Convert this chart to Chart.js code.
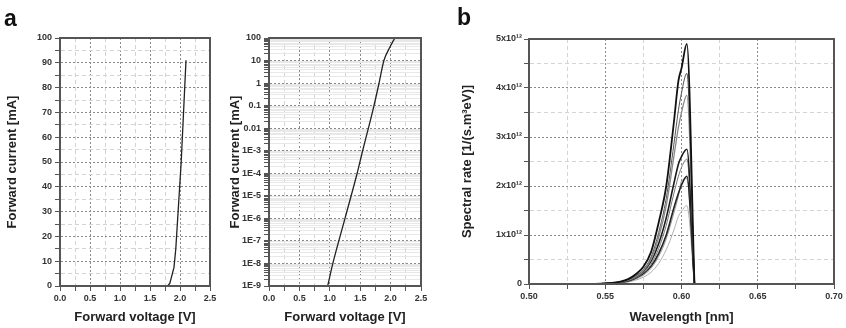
<!DOCTYPE html>
<html>
<head>
<meta charset="utf-8">
<script src="https://cdn.jsdelivr.net/npm/chart.js@4.4.1/dist/chart.umd.min.js"></script>
<style>
body { margin: 0; background: #fff; width: 846px; height: 328px; overflow: hidden; position: relative; font-family: 'Liberation Sans', Arial, sans-serif; }
.panel { position: absolute; top: 0; }
.tag { position: absolute; font-weight: bold; font-size: 23px; line-height: 23px; color: #111; }
</style>
</head>
<body>
<canvas id="linChart" class="panel" width="225" height="328" style="left:0"></canvas>
<canvas id="logChart" class="panel" width="230" height="328" style="left:225px"></canvas>
<canvas id="specChart" class="panel" width="391" height="328" style="left:455px"></canvas>
<div class="tag" style="left:4px;top:7px">a</div>
<div class="tag" style="left:457px;top:6px">b</div>
<script>
// panel a, linear current
const linVoltage = [1.79, 1.83, 1.9, 1.93, 2.02, 2.1];
const linCurrent = [0, 1, 7.5, 15, 50, 91];

// panel a, log current
const logVoltage = [0.965, 1.05, 1.25, 1.45, 1.54, 1.635, 1.727, 1.81, 1.89, 1.99, 2.07];
const logCurrent = [1e-9, 1e-8, 1e-6, 1e-4, 1e-3, 1e-2, 0.1, 1, 10, 40, 100];
const logDecades = [1e-9, 1e-8, 1e-7, 1e-6, 1e-5, 1e-4, 1e-3, 0.01, 0.1, 1, 10, 100];
const logLabels = ['1E-9', '1E-8', '1E-7', '1E-6', '1E-5', '1E-4', '1E-3', '0.01', '0.1', '1', '10', '100'];

// panel b, spectral rate in units of 10^12
const wavelength = [0.540, 0.550, 0.560, 0.565, 0.570, 0.575, 0.580, 0.585, 0.590, 0.595, 0.598, 0.600, 0.6035, 0.6085];
const specA = [0, 0.01, 0.05, 0.1, 0.2, 0.35, 0.65, 1.25, 2.0, 3.3, 4.15, 4.4, 4.9, 0];
const specB = [0, 0.01, 0.04, 0.09, 0.17, 0.3, 0.55, 1.05, 1.75, 2.85, 3.55, 3.9, 4.3, 0];
const specC = [0, 0.01, 0.04, 0.08, 0.15, 0.27, 0.5, 0.95, 1.6, 2.6, 3.2, 3.5, 3.85, 0];
const specD = [0, 0.01, 0.04, 0.08, 0.15, 0.26, 0.46, 0.82, 1.35, 2.05, 2.45, 2.6, 2.75, 0];
const specE = [0, 0.01, 0.03, 0.07, 0.13, 0.23, 0.4, 0.72, 1.2, 1.85, 2.2, 2.38, 2.55, 0];
const specF = [0, 0.01, 0.03, 0.06, 0.12, 0.21, 0.36, 0.62, 1.0, 1.55, 1.85, 2.02, 2.2, 0];
const specG = [0, 0.005, 0.02, 0.05, 0.1, 0.18, 0.32, 0.56, 0.92, 1.45, 1.8, 2.1, 2.15, 0];
const specH = [0, 0.005, 0.02, 0.04, 0.08, 0.14, 0.24, 0.42, 0.7, 1.1, 1.38, 1.48, 1.6, 0];

Chart.defaults.font.family = "'Liberation Sans', Arial, sans-serif";
Chart.defaults.animation = false;

const frame = {
  id: 'frame',
  afterDraw(chart) {
    const { ctx, chartArea: a } = chart;
    ctx.save();
    ctx.strokeStyle = '#555';
    ctx.lineWidth = 2;
    ctx.strokeRect(a.left, a.top, a.right - a.left, a.bottom - a.top);
    ctx.restore();
  }
};

const near = (v, step) => Math.abs(v / step - Math.round(v / step)) < 1e-6;

function makeAxis(o) {
  const major = v => o.isMajor(v);
  return {
    type: o.type || 'linear',
    min: o.min,
    max: o.max,
    afterFit: s => { if (o.width) s.width = o.width; if (o.height) s.height = o.height; },
    afterBuildTicks: o.tickValues ? s => { s.ticks = o.tickValues.map(v => ({ value: v })); } : undefined,
    ticks: {
      stepSize: o.step, autoSkip: false, maxRotation: 0, padding: o.pad,
      color: '#333', font: { size: 9, weight: 'bold' },
      callback: v => major(v) ? o.label(v) : ''
    },
    grid: {
      color: c => c.tick && major(c.tick.value) ? '#8a8a8a' : o.minorColor,
      lineWidth: 1, tickLength: 5, tickColor: '#555', tickWidth: 1
    },
    border: {
      color: '#555', width: 2,
      dash: c => c.tick && major(c.tick.value) ? [2, 2] : o.minorDash
    },
    title: { display: true, text: o.title, color: '#222', font: { size: 13, weight: 'bold' }, padding: o.titlePad }
  };
}

function points(xs, ys) { return xs.map((x, i) => ({ x: x, y: ys[i] })); }

// left: linear
new Chart(document.getElementById('linChart'), {
  type: 'line',
  data: { datasets: [{ data: points(linVoltage, linCurrent), borderColor: '#222', borderWidth: 1.3, pointRadius: 0 }] },
  options: {
    responsive: false,
    layout: { padding: { top: 38, right: 15, bottom: 0, left: 0 } },
    plugins: { legend: { display: false }, tooltip: { enabled: false } },
    scales: {
      x: makeAxis({ min: 0, max: 2.5, step: 0.25, height: 42, pad: 2, isMajor: v => near(v, 0.5), label: v => v.toFixed(1),
        minorColor: '#d4d4d4', minorDash: [4, 3], title: 'Forward voltage [V]', titlePad: { top: 4, bottom: 3 } }),
      y: makeAxis({ min: 0, max: 100, step: 5, width: 60, pad: 3, isMajor: v => near(v, 10), label: v => String(v),
        minorColor: '#d4d4d4', minorDash: [4, 3], title: 'Forward current [mA]', titlePad: { top: 5, bottom: 4 } })
    }
  },
  plugins: [frame]
});

// middle: logarithmic
const logTicks = [];
logDecades.forEach(d => { for (let k = 1; k < 10; k++) { if (d * k <= 100) logTicks.push(d * k); } });
new Chart(document.getElementById('logChart'), {
  type: 'line',
  data: { datasets: [{ data: points(logVoltage, logCurrent), borderColor: '#222', borderWidth: 1.3, pointRadius: 0, cubicInterpolationMode: 'monotone' }] },
  options: {
    responsive: false,
    layout: { padding: { top: 38, right: 34, bottom: 0, left: 0 } },
    plugins: { legend: { display: false }, tooltip: { enabled: false } },
    scales: {
      x: makeAxis({ min: 0, max: 2.5, step: 0.25, height: 42, pad: 2, isMajor: v => near(v, 0.5), label: v => v.toFixed(1),
        minorColor: '#d4d4d4', minorDash: [4, 3], title: 'Forward voltage [V]', titlePad: { top: 4, bottom: 3 } }),
      y: makeAxis({ type: 'logarithmic', min: 1e-9, max: 100, width: 44, pad: 3, tickValues: logTicks,
        isMajor: v => logDecades.some(d => Math.abs(Math.log10(v) - Math.log10(d)) < 1e-6),
        label: v => logLabels[logDecades.findIndex(d => Math.abs(Math.log10(v) - Math.log10(d)) < 1e-6)],
        minorColor: '#e8e8e8', minorDash: [], title: 'Forward current [mA]', titlePad: { top: 3, bottom: 4 } })
    }
  },
  plugins: [frame]
});

// right: spectral rate
const specStyles = [
  [specA, '#111', 1.8], [specB, '#555', 1], [specC, '#888', 1.3], [specD, '#1a1a1a', 1.6],
  [specE, '#777', 1], [specF, '#222', 1.6], [specG, '#999', 1], [specH, '#b0b0b0', 1]
];
new Chart(document.getElementById('specChart'), {
  type: 'line',
  data: {
    datasets: specStyles.map(s => ({
      data: points(wavelength, s[0]), borderColor: s[1], borderWidth: s[2], pointRadius: 0, cubicInterpolationMode: 'monotone'
    }))
  },
  options: {
    responsive: false,
    layout: { padding: { top: 39, right: 12, bottom: 0, left: 0 } },
    plugins: { legend: { display: false }, tooltip: { enabled: false } },
    scales: {
      x: makeAxis({ min: 0.5, max: 0.7, step: 0.025, height: 44, pad: 2, isMajor: v => near(v, 0.05), label: v => v.toFixed(2),
        minorColor: '#d4d4d4', minorDash: [4, 3], title: 'Wavelength [nm]', titlePad: { top: 4, bottom: 3 } }),
      y: makeAxis({ min: 0, max: 5, step: 0.5, width: 74, pad: 2, isMajor: v => near(v, 1), label: v => v === 0 ? '0' : v + 'x10¹²',
        minorColor: '#d4d4d4', minorDash: [4, 3], title: 'Spectral rate [1/(s.m³eV)]', titlePad: { top: 5, bottom: 4 } })
    }
  },
  plugins: [frame]
});
</script>
</body>
</html>
